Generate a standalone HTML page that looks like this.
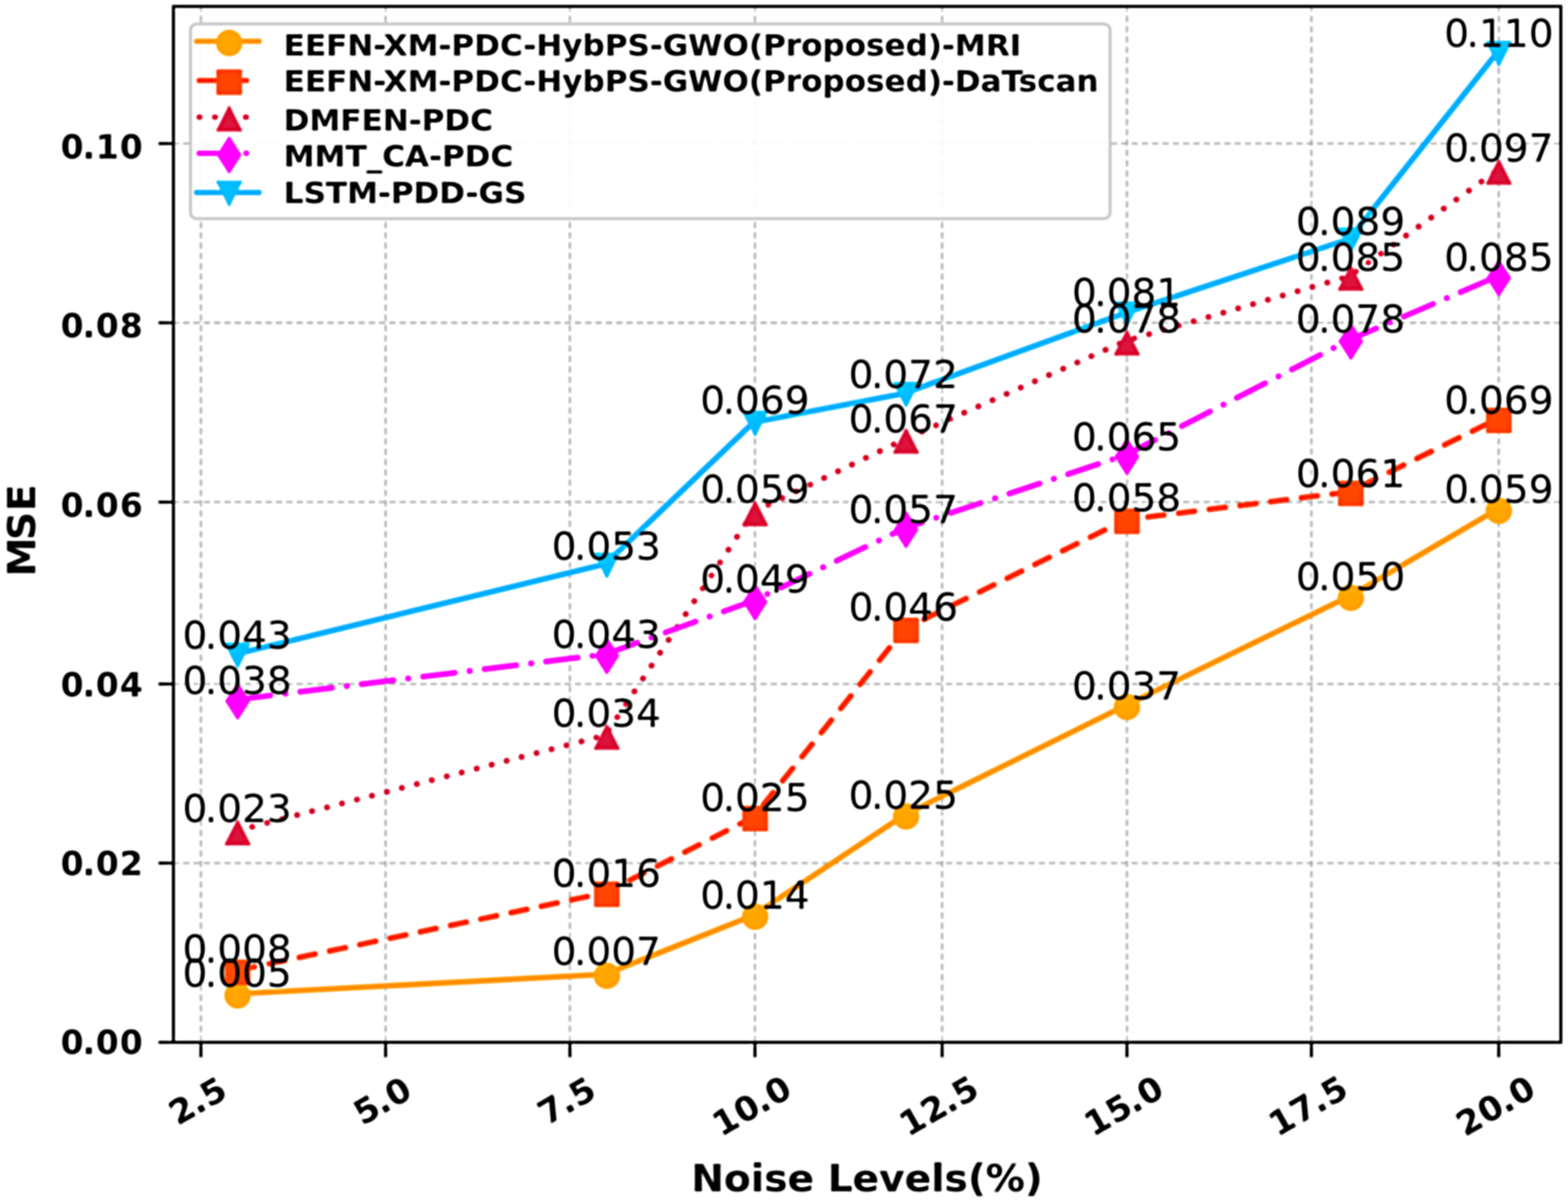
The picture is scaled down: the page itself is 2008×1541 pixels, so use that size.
<!DOCTYPE html>
<html lang="en"><head><meta charset="utf-8"><title>MSE vs Noise Levels(%)</title>
<style>
html,body{margin:0;padding:0;background:#fff;}
body{width:2008px;height:1541px;overflow:hidden;}
svg{display:block;}
text{font-family:"DejaVu Sans","Liberation Sans",sans-serif;fill:#000;}
.b{font-weight:bold;}
</style></head><body>
<svg width="2008" height="1541" viewBox="0 0 2008 1541">
<defs><filter id="soft" x="-20" y="-20" width="2048" height="1581" filterUnits="userSpaceOnUse" color-interpolation-filters="sRGB"><feGaussianBlur in="SourceGraphic" stdDeviation="1.5" result="a"/><feGaussianBlur in="SourceGraphic" stdDeviation="3" result="b"/><feComposite in="a" in2="b" operator="arithmetic" k1="0" k2="1.7" k3="-0.7" k4="0"/></filter></defs>
<g filter="url(#soft)">
<rect x="-20" y="-20" width="2048" height="1581" fill="#ffffff"/>
<g stroke="#aeaeae" stroke-width="2.3" stroke-dasharray="8.2 5" fill="none">
<line x1="257.3" y1="1335.2" x2="257.3" y2="8.2"/>
<line x1="493.8" y1="1335.2" x2="493.8" y2="8.2"/>
<line x1="729.8" y1="1335.2" x2="729.8" y2="8.2"/>
<line x1="966.8" y1="1335.2" x2="966.8" y2="8.2"/>
<line x1="1206.5" y1="1335.2" x2="1206.5" y2="8.2"/>
<line x1="1443.2" y1="1335.2" x2="1443.2" y2="8.2"/>
<line x1="1679.4" y1="1335.2" x2="1679.4" y2="8.2"/>
<line x1="1919.3" y1="1335.2" x2="1919.3" y2="8.2"/>
<line x1="221.3" y1="1105.6" x2="1998.8" y2="1105.6"/>
<line x1="221.3" y1="876.2" x2="1998.8" y2="876.2"/>
<line x1="221.3" y1="643.2" x2="1998.8" y2="643.2"/>
<line x1="221.3" y1="413.5" x2="1998.8" y2="413.5"/>
<line x1="221.3" y1="183.9" x2="1998.8" y2="183.9"/>
</g>
<polyline points="302.4,1273.2 775.2,1248 965.1,1172.4 1158.4,1043.8 1441.3,903.7 1728,763.8 1917.5,652.4" fill="none" stroke="#FF9A00" stroke-width="7.3" stroke-linejoin="round" stroke-linecap="round"/>
<g><circle cx="304.3" cy="1275.1" r="17" fill="#FFA500"/><circle cx="777.1" cy="1249.9" r="17" fill="#FFA500"/><circle cx="967" cy="1174.3" r="17" fill="#FFA500"/><circle cx="1160.3" cy="1045.7" r="17" fill="#FFA500"/><circle cx="1443.2" cy="905.6" r="17" fill="#FFA500"/><circle cx="1729.9" cy="765.7" r="17" fill="#FFA500"/><circle cx="1919.4" cy="654.3" r="17" fill="#FFA500"/></g>
<polyline points="302.4,1243.5 775.2,1143.6 965.1,1046.5 1158.4,805.7 1441.3,665.8 1728,630.1 1917.5,536.6" fill="none" stroke="#FF3300" stroke-width="7.3" stroke-linejoin="round" stroke-linecap="round" stroke-dasharray="20.3 19.3" stroke-dashoffset="-3.65"/>
<g><rect x="287.8" y="1228.9" width="33" height="33" rx="2.5" fill="#FF4500"/><rect x="760.6" y="1129" width="33" height="33" rx="2.5" fill="#FF4500"/><rect x="950.5" y="1031.9" width="33" height="33" rx="2.5" fill="#FF4500"/><rect x="1143.8" y="791.1" width="33" height="33" rx="2.5" fill="#FF4500"/><rect x="1426.7" y="651.2" width="33" height="33" rx="2.5" fill="#FF4500"/><rect x="1713.4" y="615.5" width="33" height="33" rx="2.5" fill="#FF4500"/><rect x="1902.9" y="522" width="33" height="33" rx="2.5" fill="#FF4500"/></g>
<polyline points="302.4,1064.3 775.2,941.8 965.1,655.6 1158.4,562.7 1441.3,436.8 1728,353.8 1917.5,218.1" fill="none" stroke="#DA0A34" stroke-width="7.3" stroke-linejoin="round" stroke-linecap="round" stroke-dasharray="0.17 19.63" stroke-dashoffset="-1.35"/>
<g><polygon points="304.3,1051.9 289.4,1081.4 319.2,1081.4" fill="#DC143C" stroke="#DC143C" stroke-width="3" stroke-linejoin="round"/><polygon points="777.1,929.4 762.2,958.9 792,958.9" fill="#DC143C" stroke="#DC143C" stroke-width="3" stroke-linejoin="round"/><polygon points="967,643.2 952.1,672.7 981.9,672.7" fill="#DC143C" stroke="#DC143C" stroke-width="3" stroke-linejoin="round"/><polygon points="1160.3,550.3 1145.4,579.8 1175.2,579.8" fill="#DC143C" stroke="#DC143C" stroke-width="3" stroke-linejoin="round"/><polygon points="1443.2,424.4 1428.3,453.9 1458.1,453.9" fill="#DC143C" stroke="#DC143C" stroke-width="3" stroke-linejoin="round"/><polygon points="1729.9,341.4 1715,370.9 1744.8,370.9" fill="#DC143C" stroke="#DC143C" stroke-width="3" stroke-linejoin="round"/><polygon points="1919.4,205.7 1904.5,235.2 1934.3,235.2" fill="#DC143C" stroke="#DC143C" stroke-width="3" stroke-linejoin="round"/></g>
<polyline points="302.4,896.2 775.2,838.1 965.1,769.4 1158.4,676.6 1441.3,583 1728,435.4 1917.5,354.1" fill="none" stroke="#FF00FF" stroke-width="7.3" stroke-linejoin="round" stroke-linecap="round" stroke-dasharray="40.5 19.3 0.17 19.3" stroke-dashoffset="-3.65"/>
<g><polygon points="304.3,876.1 318.5,898.1 304.3,920.1 290.1,898.1" fill="#FF00FF" stroke="#FF00FF" stroke-width="3" stroke-linejoin="round"/><polygon points="777.1,818 791.3,840 777.1,862 762.9,840" fill="#FF00FF" stroke="#FF00FF" stroke-width="3" stroke-linejoin="round"/><polygon points="967,749.3 981.2,771.3 967,793.3 952.8,771.3" fill="#FF00FF" stroke="#FF00FF" stroke-width="3" stroke-linejoin="round"/><polygon points="1160.3,656.5 1174.5,678.5 1160.3,700.5 1146.1,678.5" fill="#FF00FF" stroke="#FF00FF" stroke-width="3" stroke-linejoin="round"/><polygon points="1443.2,562.9 1457.4,584.9 1443.2,606.9 1429,584.9" fill="#FF00FF" stroke="#FF00FF" stroke-width="3" stroke-linejoin="round"/><polygon points="1729.9,415.3 1744.1,437.3 1729.9,459.3 1715.7,437.3" fill="#FF00FF" stroke="#FF00FF" stroke-width="3" stroke-linejoin="round"/><polygon points="1919.4,334 1933.6,356 1919.4,378 1905.2,356" fill="#FF00FF" stroke="#FF00FF" stroke-width="3" stroke-linejoin="round"/></g>
<polyline points="302.4,837.8 775.2,722.5 965.1,540.9 1158.4,503.8 1441.3,400.7 1728,306.1 1917.5,67.1" fill="none" stroke="#00B4FF" stroke-width="7.3" stroke-linejoin="round" stroke-linecap="round"/>
<g><polygon points="304.3,854 289.4,824.5 319.2,824.5" fill="#00BFFF" stroke="#00BFFF" stroke-width="3" stroke-linejoin="round"/><polygon points="777.1,738.7 762.2,709.2 792,709.2" fill="#00BFFF" stroke="#00BFFF" stroke-width="3" stroke-linejoin="round"/><polygon points="967,557.1 952.1,527.6 981.9,527.6" fill="#00BFFF" stroke="#00BFFF" stroke-width="3" stroke-linejoin="round"/><polygon points="1160.3,520 1145.4,490.5 1175.2,490.5" fill="#00BFFF" stroke="#00BFFF" stroke-width="3" stroke-linejoin="round"/><polygon points="1443.2,416.9 1428.3,387.4 1458.1,387.4" fill="#00BFFF" stroke="#00BFFF" stroke-width="3" stroke-linejoin="round"/><polygon points="1729.9,322.3 1715,292.8 1744.8,292.8" fill="#00BFFF" stroke="#00BFFF" stroke-width="3" stroke-linejoin="round"/><polygon points="1919.4,83.3 1904.5,53.8 1934.3,53.8" fill="#00BFFF" stroke="#00BFFF" stroke-width="3" stroke-linejoin="round"/></g>
<rect x="222.1" y="8.2" width="1776.7" height="1327" fill="none" stroke="#000" stroke-width="3.6"/>
<g stroke="#000" stroke-width="3.6" stroke-linecap="butt">
<line x1="257.3" y1="1335.2" x2="257.3" y2="1354.2"/>
<line x1="493.8" y1="1335.2" x2="493.8" y2="1354.2"/>
<line x1="729.8" y1="1335.2" x2="729.8" y2="1354.2"/>
<line x1="966.8" y1="1335.2" x2="966.8" y2="1354.2"/>
<line x1="1206.5" y1="1335.2" x2="1206.5" y2="1354.2"/>
<line x1="1443.2" y1="1335.2" x2="1443.2" y2="1354.2"/>
<line x1="1679.4" y1="1335.2" x2="1679.4" y2="1354.2"/>
<line x1="1919.3" y1="1335.2" x2="1919.3" y2="1354.2"/>
<line x1="222.1" y1="1335.2" x2="203.1" y2="1335.2"/>
<line x1="222.1" y1="1105.6" x2="203.1" y2="1105.6"/>
<line x1="222.1" y1="876.2" x2="203.1" y2="876.2"/>
<line x1="222.1" y1="643.2" x2="203.1" y2="643.2"/>
<line x1="222.1" y1="413.5" x2="203.1" y2="413.5"/>
<line x1="222.1" y1="183.9" x2="203.1" y2="183.9"/>
</g>
<g class="b" font-size="42.0">
<text x="77.73 105.83 122.87 153.48" y="1350.2">0.00</text>
<text x="77.73 105.83 122.87 153.48" y="1120.8">0.02</text>
<text x="77.73 105.83 122.87 153.48" y="891.8">0.04</text>
<text x="77.73 105.83 122.87 153.48" y="661.9">0.06</text>
<text x="77.73 105.83 122.87 153.48" y="432.3">0.08</text>
<text x="77.73 105.83 122.87 153.48" y="202.9">0.10</text>
</g>
<g class="b" font-size="42.0">
<text font-size="43" transform="translate(252.8 1409.6) rotate(-30)" x="-38.06 -9.27 8.14" y="15.7">2.5</text>
<text font-size="43" transform="translate(489.3 1409.6) rotate(-30)" x="-38.06 -9.27 8.14" y="15.7">5.0</text>
<text font-size="43" transform="translate(725.3 1409.6) rotate(-30)" x="-38.06 -9.27 8.14" y="15.7">7.5</text>
<text font-size="43" transform="translate(962.3 1416) rotate(-30)" x="-53.72 -22.41 6.39 23.8" y="15.7">10.0</text>
<text font-size="43" transform="translate(1202 1416) rotate(-30)" x="-53.72 -22.41 6.39 23.8" y="15.7">12.5</text>
<text font-size="43" transform="translate(1438.7 1416) rotate(-30)" x="-53.72 -22.41 6.39 23.8" y="15.7">15.0</text>
<text font-size="43" transform="translate(1674.9 1416) rotate(-30)" x="-53.72 -22.41 6.39 23.8" y="15.7">17.5</text>
<text font-size="43" transform="translate(1914.8 1416) rotate(-30)" x="-53.72 -22.41 6.39 23.8" y="15.7">20.0</text>
</g>
<text class="b" font-size="48" text-anchor="middle" transform="translate(1110.3 1525.6) scale(1.044 1)">Noise Levels(%)</text>
<text class="b" font-size="50.6" transform="translate(45.1 738.8) rotate(-90)" x="0 46.75 83.70" y="0">MSE</text>
<g font-size="50.0">
<text x="233.7 262.31 278.2 310.02 341.83" y="1264.4">0.005</text>
<text x="706.4 735.01 750.9 782.72 814.53" y="1235.9">0.007</text>
<text x="896.8 925.41 941.3 973.12 1004.93" y="1164.4">0.014</text>
<text x="1086.8 1115.41 1131.3 1163.12 1194.93" y="1035.8">0.025</text>
<text x="1372.7 1401.31 1417.2 1449.02 1480.83" y="896.2">0.037</text>
<text x="1659.5 1688.11 1704.01 1735.82 1767.63" y="755.8">0.050</text>
<text x="1849.5 1878.11 1894.01 1925.82 1957.63" y="644.4">0.059</text>
<text x="233.7 262.31 278.2 310.02 341.83" y="1232.5">0.008</text>
<text x="706.4 735.01 750.9 782.72 814.53" y="1136">0.016</text>
<text x="896.8 925.41 941.3 973.12 1004.93" y="1038.7">0.025</text>
<text x="1086.8 1115.41 1131.3 1163.12 1194.93" y="795.1">0.046</text>
<text x="1372.7 1401.31 1417.2 1449.02 1480.83" y="655.1">0.058</text>
<text x="1659.5 1688.11 1704.01 1735.82 1767.63" y="623.5">0.061</text>
<text x="1849.5 1878.11 1894.01 1925.82 1957.63" y="530.2">0.069</text>
<text x="233.7 262.31 278.2 310.02 341.83" y="1052.7">0.023</text>
<text x="706.4 735.01 750.9 782.72 814.53" y="930.7">0.034</text>
<text x="896.8 925.41 941.3 973.12 1004.93" y="644.1">0.059</text>
<text x="1086.8 1115.41 1131.3 1163.12 1194.93" y="554.4">0.067</text>
<text x="1372.7 1401.31 1417.2 1449.02 1480.83" y="425.5">0.078</text>
<text x="1659.5 1688.11 1704.01 1735.82 1767.63" y="346.6">0.085</text>
<text x="1849.5 1878.11 1894.01 1925.82 1957.63" y="206.5">0.097</text>
<text x="233.7 262.31 278.2 310.02 341.83" y="888.7">0.038</text>
<text x="706.4 735.01 750.9 782.72 814.53" y="830.1">0.043</text>
<text x="896.8 925.41 941.3 973.12 1004.93" y="758.9">0.049</text>
<text x="1086.8 1115.41 1131.3 1163.12 1194.93" y="669.5">0.057</text>
<text x="1372.7 1401.31 1417.2 1449.02 1480.83" y="576.6">0.065</text>
<text x="1659.5 1688.11 1704.01 1735.82 1767.63" y="425.8">0.078</text>
<text x="1849.5 1878.11 1894.01 1925.82 1957.63" y="346.9">0.085</text>
<text x="233.7 262.31 278.2 310.02 341.83" y="831.1">0.043</text>
<text x="706.4 735.01 750.9 782.72 814.53" y="717.2">0.053</text>
<text x="896.8 925.41 941.3 973.12 1004.93" y="529.5">0.069</text>
<text x="1086.8 1115.41 1131.3 1163.12 1194.93" y="496.6">0.072</text>
<text x="1372.7 1401.31 1417.2 1449.02 1480.83" y="391.8">0.081</text>
<text x="1659.5 1688.11 1704.01 1735.82 1767.63" y="300.9">0.089</text>
<text x="1849.5 1878.11 1894.01 1925.82 1957.63" y="59.5">0.110</text>
</g>
<rect x="244" y="30.6" width="1177.6" height="249.6" rx="8" ry="8" fill="#fff" fill-opacity="0.93" stroke="#cccccc" stroke-width="3.8"/>
<line x1="251.8" y1="52.9" x2="331.6" y2="52.9" stroke="#FF9A00" stroke-width="6.7" stroke-linecap="round"/>
<circle cx="293.5" cy="55.1" r="17" fill="#FFA500"/>
<text class="b" font-size="37.6" transform="translate(363.3 70.8) scale(1.058 1)">EEFN-XM-PDC-HybPS-GWO(Proposed)-MRI</text>
<line x1="251.8" y1="103.2" x2="331.6" y2="103.2" stroke="#FF3300" stroke-width="6.7" stroke-linecap="round" stroke-dasharray="20.9 18.7" stroke-dashoffset="-3.35"/>
<rect x="277" y="88.7" width="33" height="33" rx="2.5" fill="#FF4500"/>
<text class="b" font-size="37.6" transform="translate(363.3 117.1) scale(1.058 1)">EEFN-XM-PDC-HybPS-GWO(Proposed)-DaTscan</text>
<line x1="251.8" y1="150.0" x2="331.6" y2="150.0" stroke="#DA0A34" stroke-width="6.7" stroke-linecap="round" stroke-dasharray="0.77 19.03" stroke-dashoffset="-3.35"/>
<polygon points="293.5,137.4 278.6,166.9 308.4,166.9" fill="#DC143C" stroke="#DC143C" stroke-width="3" stroke-linejoin="round"/>
<text class="b" font-size="37.6" transform="translate(363.3 166.7) scale(1.058 1)">DMFEN-PDC</text>
<line x1="251.8" y1="196.3" x2="331.6" y2="196.3" stroke="#FF00FF" stroke-width="6.7" stroke-linecap="round" stroke-dasharray="41.1 18.7 0.77 18.7" stroke-dashoffset="-3.35"/>
<polygon points="293.5,176.5 307.7,198.5 293.5,220.5 279.3,198.5" fill="#FF00FF" stroke="#FF00FF" stroke-width="3" stroke-linejoin="round"/>
<text class="b" font-size="37.6" transform="translate(363.3 213.4) scale(1.058 1)">MMT_CA-PDC</text>
<line x1="251.8" y1="246.6" x2="331.6" y2="246.6" stroke="#00B4FF" stroke-width="6.7" stroke-linecap="round"/>
<polygon points="293.5,262.4 278.6,232.9 308.4,232.9" fill="#00BFFF" stroke="#00BFFF" stroke-width="3" stroke-linejoin="round"/>
<text class="b" font-size="37.6" transform="translate(363.3 260.1) scale(1.058 1)">LSTM-PDD-GS</text>
</g>
</svg>
</body></html>
